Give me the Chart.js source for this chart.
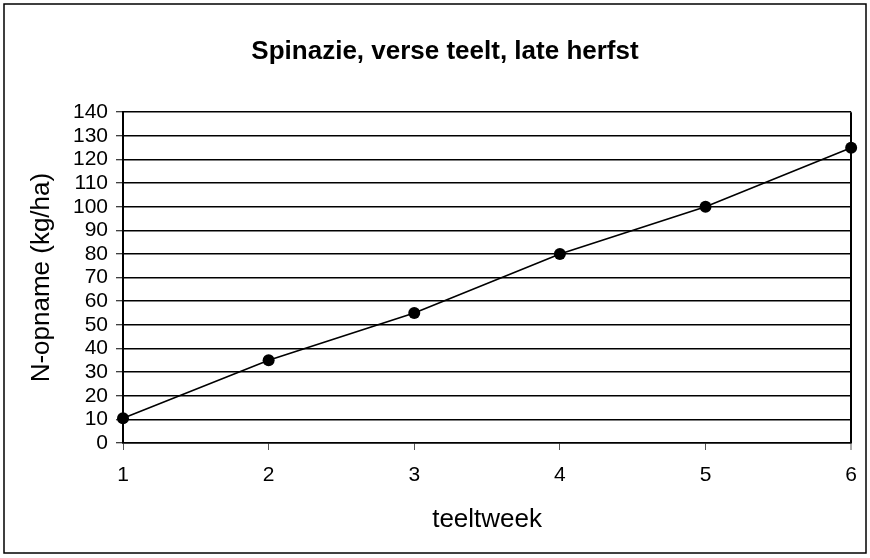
<!DOCTYPE html>
<html lang="nl">
<head>
<meta charset="utf-8">
<title>Spinazie, verse teelt, late herfst</title>
<script src="https://cdn.jsdelivr.net/npm/chart.js@4/dist/chart.umd.min.js"></script>
<style>
    html, body { margin: 0; padding: 0; background: #fff; }
    #wrap { width: 870px; height: 558px; position: relative; }
</style>
</head>
<body>
<div id="wrap"><canvas id="nChart" width="870" height="558"></canvas></div>
<script>
// data
const weeks = [1, 2, 3, 4, 5, 6];
const nUptake = [10.5, 35, 55, 80, 100, 125];
const yTicks = [0, 10, 20, 30, 40, 50, 60, 70, 80, 90, 100, 110, 120, 130, 140];

const chartTitle = 'Spinazie, verse teelt, late herfst';
const xTitle = 'teeltweek';
const yTitle = 'N-opname (kg/ha)';

const FONT = '"Liberation Sans", Arial, sans-serif';

// outer frame around the whole picture
const framePlugin = {
    id: 'frame',
    beforeDraw(chart) {
        const ctx = chart.ctx;
        ctx.save();
        ctx.fillStyle = '#fff';
        ctx.fillRect(0, 0, chart.width, chart.height);
        ctx.strokeStyle = '#000';
        ctx.lineWidth = 1.5;
        ctx.strokeRect(4, 4, 862, 549);
        ctx.restore();
    }
};

document.addEventListener('DOMContentLoaded', () => {
    const ctx = document.getElementById('nChart').getContext('2d');

    new Chart(ctx, {
        type: 'scatter',
        data: {
            datasets: [{
                label: yTitle,
                data: weeks.map((w, i) => ({ x: w, y: nUptake[i] })),
                showLine: true,
                clip: false,
                borderColor: '#000',
                borderWidth: 1.6,
                backgroundColor: '#000',
                pointRadius: 6,
                pointHoverRadius: 6,
                pointBorderWidth: 0,
                tension: 0
            }]
        },
        options: {
            responsive: false,
            animation: false,
            events: [],
            layout: {
                padding: { left: 38, right: 18, top: 10, bottom: 10 }
            },
            plugins: {
                legend: { display: false },
                tooltip: { enabled: false },
                title: {
                    display: true,
                    text: chartTitle,
                    color: '#000',
                    font: { family: FONT, size: 26, weight: 'bold' },
                    padding: { top: 26, bottom: 45 }
                }
            },
            scales: {
                x: {
                    type: 'linear',
                    min: 1,
                    max: 6,
                    afterFit(scale) { scale.height = 105; },
                    ticks: {
                        stepSize: 1,
                        color: '#000',
                        padding: 13,
                        font: { family: FONT, size: 21 }
                    },
                    grid: {
                        color: (c) => (c.tick && c.tick.value === 6) ? '#000' : 'rgba(0,0,0,0)',
                        lineWidth: (c) => (c.tick && c.tick.value === 6) ? 2 : 1,
                        tickColor: '#555',
                        tickWidth: 1,
                        tickLength: 7
                    },
                    border: { display: true, color: '#000', width: 1.5 },
                    title: {
                        display: true,
                        text: xTitle,
                        color: '#000',
                        font: { family: FONT, size: 26 },
                        padding: { top: 0, bottom: 13 }
                    }
                },
                y: {
                    min: 0,
                    max: 140,
                    afterFit(scale) { scale.width = 85; },
                    afterBuildTicks(scale) {
                        scale.ticks = yTicks.map(v => ({ value: v }));
                    },
                    ticks: {
                        autoSkip: false,
                        color: '#000',
                        padding: 8,
                        font: { family: FONT, size: 21 }
                    },
                    grid: {
                        color: '#000',
                        lineWidth: 1.5,
                        tickColor: '#000',
                        tickWidth: 1,
                        tickLength: 7
                    },
                    border: { display: true, color: '#000', width: 2 },
                    title: {
                        display: true,
                        text: yTitle,
                        color: '#000',
                        font: { family: FONT, size: 26 },
                        padding: { top: -12, bottom: 0 }
                    }
                }
            }
        },
        plugins: [framePlugin]
    });
});
</script>
</body>
</html>
